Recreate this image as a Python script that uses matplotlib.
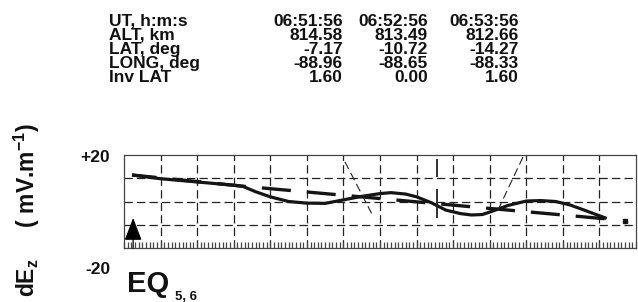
import numpy as np
import matplotlib
matplotlib.use('Agg')
import matplotlib.pyplot as plt
from matplotlib import font_manager

_names = {f.name for f in font_manager.fontManager.ttflist}
if 'Liberation Sans Narrow' in _names:
    NARROW, NSIZE = 'Liberation Sans Narrow', 14.0
else:
    NARROW, NSIZE = 'Liberation Sans', 12.5
WIDE = 'Liberation Sans'
plt.rcParams['lines.scale_dashes'] = False

# ---- header table ----
header_labels = ["UT, h:m:s", "ALT, km", "LAT, deg", "LONG, deg", "Inv LAT"]
ut_vals = ["06:51:56", "06:52:56", "06:53:56"]
alt_vals = ["814.58", "813.49", "812.66"]
lat_vals = ["-7.17", "-10.72", "-14.27"]
long_vals = ["-88.96", "-88.65", "-88.33"]
invlat_vals = ["1.60", "0.00", "1.60"]

# ---- plot data (x in grid-cell units, y in mV/m) ----
solid_x = [0.22, 1.0, 2.0, 3.0, 3.25, 3.6, 4.0, 4.5, 5.0, 5.5, 6.0, 6.5, 7.0, 7.3, 7.7,
           8.0, 8.4, 8.8, 9.2, 9.5, 9.8, 10.1, 10.5, 11.0, 11.4, 11.8, 12.2, 12.6, 13.2]
solid_y = [11.4, 9.8, 8.4, 7.0, 6.5, 4.2, 2.0, 0.0, -0.7, -0.8, 0.7, 2.2, 3.4, 3.8, 3.2,
           2.0, -0.5, -3.7, -5.2, -5.8, -5.6, -4.0, -1.7, 0.2, 0.4, 0.0, -1.5, -3.8, -7.3]
dash_x = [0.22, 3.3, 13.2]
dash_y = [11.4, 6.5, -7.5]
thinA_x = [6.04, 6.77]
thinA_y = [17.1, -5.1]
thinB_x = [10.91, 10.2]
thinB_y = [19.1, -4.5]
vert_x = [8.56, 8.56]
vert_y = [18.3, -7.1]
dot_x = [13.7]
dot_y = [-8.4]
eq_x = 0.25
y_tick_labels = ["+20", "-20"]

W, H = 638, 302
fig = plt.figure(figsize=(W / 100, H / 100), dpi=100)

def fx(px):
    return px / W

def fy(py):
    return 1 - py / H

# header text
row_base = [25.5, 39.8, 54.1, 68.4, 82.5]
col_right = [343, 428, 519]
cols = [ut_vals, alt_vals, lat_vals, long_vals, invlat_vals]
for i, lab in enumerate(header_labels):
    fig.text(fx(109), fy(row_base[i]), lab, family=NARROW, weight='bold',
             fontsize=NSIZE, ha='left', va='baseline', color='#111')
    for j in range(3):
        fig.text(fx(col_right[j]), fy(row_base[i]), cols[i][j], family=NARROW,
                 weight='bold', fontsize=NSIZE, ha='right', va='baseline', color='#111')

# axes
ax = fig.add_axes([fx(124), fy(248), 512 / W, 93 / H])
ax.set_xlim(0, 14)
ax.set_ylim(-20, 20)
ax.set_xticks(np.arange(1, 14))
ax.set_xticks(np.arange(0, 14.001, 0.1), minor=True)
ax.set_yticks([-10, 0, 10])
ax.grid(True, which='major', linestyle=(0, (6, 3)), linewidth=0.9, color='#222')
ax.tick_params(axis='x', which='both', direction='in', length=4.5, width=0.9,
               color='#444', labelbottom=False, bottom=True, top=False)
ax.tick_params(axis='y', which='both', length=0, labelleft=False)
for s in ax.spines.values():
    s.set_linewidth(0.9)
    s.set_color('#444')

ax.plot(solid_x, solid_y, color='#151515', lw=2.3, solid_capstyle='butt')
ax.plot(dash_x, dash_y, color='#151515', lw=2.4, linestyle=(3.2, (20.9, 11.5)))
ax.plot(thinA_x, thinA_y, color='#222', lw=0.8, linestyle=(0, (6, 3)))
ax.plot(thinB_x, thinB_y, color='#222', lw=0.8, linestyle=(0, (6, 3)))
ax.plot(vert_x, vert_y, color='#222', lw=1.3, linestyle=(0, (13, 8.6, 21, 10)))
ax.plot(dot_x, dot_y, 's', color='#151515', ms=2.3)
ax.annotate('', xy=(eq_x, -7.1), xytext=(eq_x, -20),
            arrowprops=dict(arrowstyle='-|>,head_length=0.7,head_width=0.27',
                            mutation_scale=20, lw=0.9, color='black',
                            shrinkA=0, shrinkB=0))

# y tick labels
fig.text(fx(110), fy(158), y_tick_labels[0], family=NARROW, weight='bold',
         fontsize=NSIZE, ha='right', va='center', color='#111')
fig.text(fx(110), fy(269), y_tick_labels[1], family=NARROW, weight='bold',
         fontsize=NSIZE, ha='right', va='center', color='#111')

# y axis label
fig.text(fx(27), fy(210), r'dE$_\mathregular{z}$     ( mV.m$^\mathregular{ -1}$)',
         family=NARROW, weight='bold', fontsize=16.5, rotation=90,
         ha='center', va='center', color='#111')

# EQ label
fig.text(fx(127), fy(292), 'EQ', family=WIDE, weight='bold', fontsize=21,
         ha='left', va='baseline', color='#111')
fig.text(fx(175), fy(300), '5, 6', family=WIDE, weight='bold', fontsize=9.5,
         ha='left', va='baseline', color='#111')

fig.savefig('out.png', dpi=100)
